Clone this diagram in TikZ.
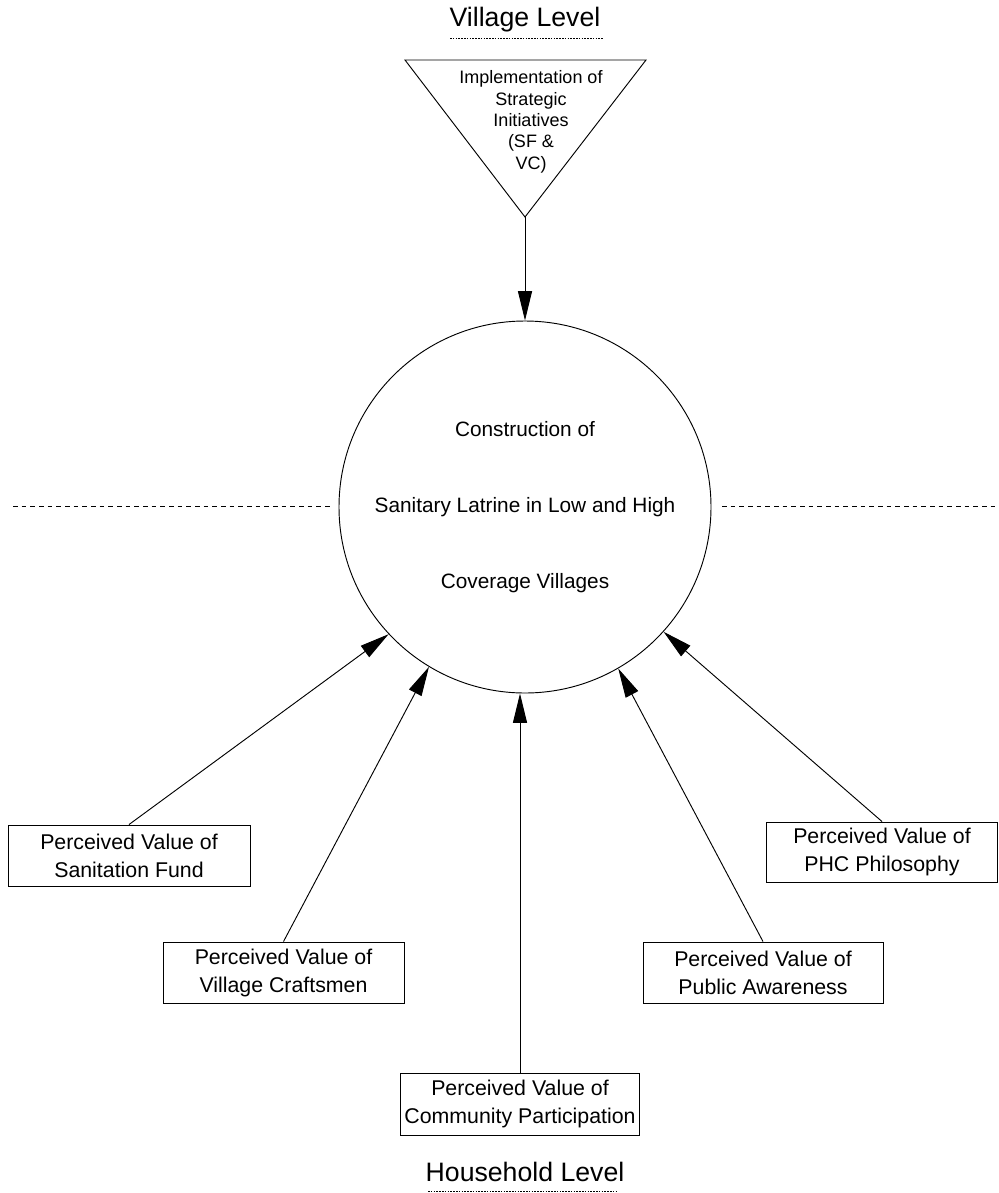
\documentclass[tikz,border=0pt]{standalone}
\usepackage{fontspec}
\setmainfont{Liberation Sans}
\usetikzlibrary{arrows.meta}

\begin{document}
\begin{tikzpicture}[x=0.75pt,y=0.75pt,yscale=-1,xscale=1,line width=0.7pt,
  perc/.style={draw,align=center,inner sep=0pt,minimum height=45.75pt,font=\fontsize{16}{21}\selectfont},
  tip/.style={-{Triangle[length=22pt,width=10.5pt]}},
  level/.style={font=\fontsize{20}{24}\selectfont},
  levline/.style={line width=0.6pt,dash pattern=on 1.2pt off 0.9pt},
  cut/.style={dash pattern=on 3.5pt off 3pt}]
\useasboundingbox (0,0) rectangle (999,1193);

%Shape: Circle
\node [circle,draw,minimum size=279pt,inner sep=0pt,align=center,font=\fontsize{15.6}{57}\selectfont] (cons) at (525,507) {Construction of\\Sanitary Latrine in Low and High\\Coverage Villages};

%Shape: Triangle
\coordinate (tl) at (405,60);
\coordinate (tr) at (646,60);
\coordinate (apex) at (525,217);
\draw (tl) -- (tr) -- (apex) -- cycle ;
% Text Node
\node [align=center,font=\fontsize{13.5}{16}\selectfont] (strat) at (531,122) {Implementation of\\Strategic\\Initiatives\\(SF \&\\VC)};

%Shape: Rectangle
\node [perc,minimum width=181.5pt] (fund) at (129,855.5) {Perceived Value of\\Sanitation Fund};
%Shape: Rectangle
\node [perc,minimum width=180.75pt] (craft) at (283.5,972.5) {Perceived Value of\\Village Craftsmen};
%Shape: Rectangle
\node [perc,minimum width=179.25pt,minimum height=46.5pt] (comm) at (520,1104) {Perceived Value of\\Community Participation};
%Shape: Rectangle
\node [perc,minimum width=180pt] (aware) at (763,972.5) {Perceived Value of\\Public Awareness};
%Shape: Rectangle
\node [perc,minimum width=173.25pt,minimum height=45pt] (phc) at (882,852) {Perceived Value of\\PHC Philosophy};

%Straight Lines
\draw [tip] (apex) -- (cons.north) ;
\draw [tip] (fund.north) -- (cons.223) ;
\draw [tip] (craft.north) -- (cons.239) ;
\draw [tip] (comm.north) -- (comm.north |- cons.south) ;
\draw [tip] (aware.north) -- (cons.300) ;
\draw [tip] (phc.north) -- (cons.318) ;

%Straight Lines
\draw [cut] (13,506) -- (330,506) ;
\draw [cut] (722,506) -- (999,506) ;

% Text Node
\node [level] (vil) at (525,20) {Village Level};
\draw [levline] (450,38) -- (603,38) ;
% Text Node
\node [level] (hh) at (525,1172) {Household Level};
\draw [levline] (428,1191) -- (616,1191) ;
\end{tikzpicture}
\end{document}
